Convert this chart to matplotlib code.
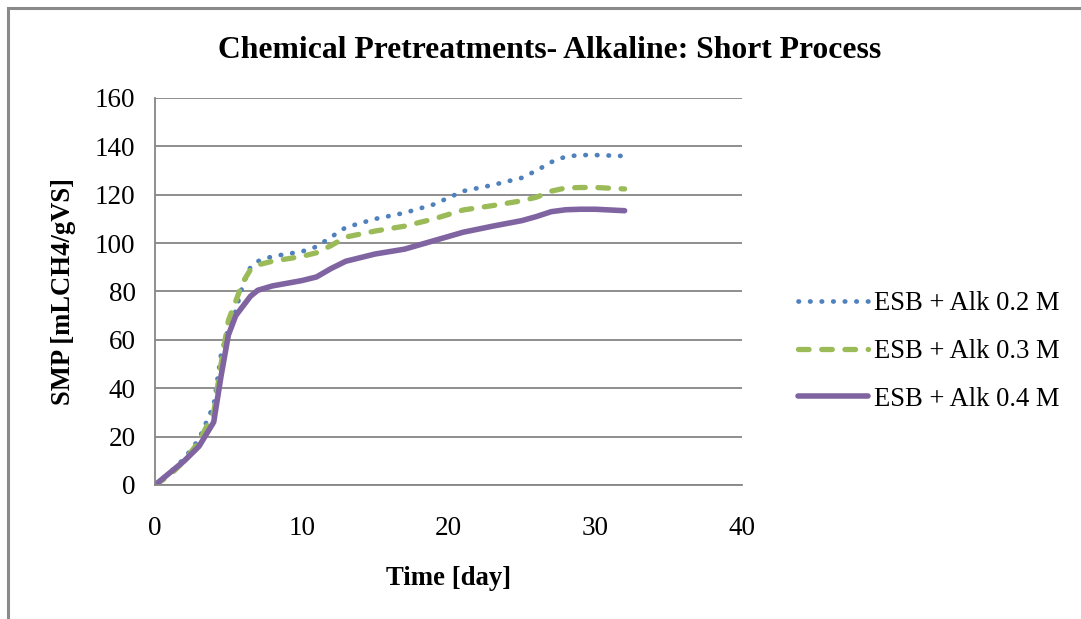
import matplotlib
matplotlib.use("Agg")
import matplotlib.pyplot as plt
from matplotlib.patches import Rectangle

days = [0, 1, 2, 3, 4, 4.5, 5, 5.5, 6, 6.5, 7, 8, 10, 11, 12, 13, 15, 17,
        19, 21, 23, 25, 26, 27, 28, 29, 30, 32]

alk_02 = [0, 5, 11, 19, 33, 54, 65, 72, 83, 90, 92.5, 94.5, 96.5, 98.5, 102.5,
          106.5, 110, 112.5, 116, 121.5, 124, 127, 130, 133.5, 135.8, 136.4,
          136.4, 136]
alk_03 = [0, 4, 10, 18, 30, 50, 68, 76, 84, 89, 91, 92.5, 94.5, 96, 99, 102.5,
          105, 107, 110, 113.7, 115.5, 117.5, 119, 121.5, 122.8, 123, 123, 122.4]
alk_04 = [0, 5, 10, 16, 26, 45, 62, 70, 74, 78, 80.5, 82.3, 84.5, 86, 89.5,
          92.5, 95.5, 97.5, 101, 104.5, 107, 109.3, 111, 113, 113.8, 114, 114,
          113.4]

labels = ["ESB + Alk 0.2 M", "ESB + Alk 0.3 M", "ESB + Alk 0.4 M"]

plt.rcParams['font.family'] = ['Liberation Serif', 'DejaVu Serif']

fig = plt.figure(figsize=(10.81, 6.19), dpi=100)
ax = fig.add_axes([0.1434, 0.2165, 0.543, 0.6252])

ax.plot(days, alk_02, color='#4F81BD', lw=3.4, linestyle=(0, (0.1, 2.35)),
        dash_capstyle='round', solid_joinstyle='round', label=labels[0])
ax.plot(days, alk_03, color='#9BBB59', lw=3.8, linestyle=(0, (2.0, 2.4)),
        dash_capstyle='round', label=labels[1])
ax.plot(days, alk_04, color='#8064A2', lw=4.0, solid_capstyle='round',
        solid_joinstyle='round', label=labels[2])

ax.set_xlim(0, 40)
ax.set_ylim(0, 160)
ax.set_xticks(range(0, 41, 10))
ax.set_yticks(range(0, 161, 20))
ax.tick_params(length=0, labelsize=19.5, pad=14)
ax.tick_params(axis='x', pad=22)
ax.grid(axis='y', color='#868686', lw=1.3)
ax.set_axisbelow(True)
for s in ['top', 'right']:
    ax.spines[s].set_visible(False)
for s in ['left', 'bottom']:
    ax.spines[s].set_color('#868686')
    ax.spines[s].set_linewidth(1.3)

fig.text(550 / 1081, 1 - 50 / 619,
         "Chemical Pretreatments- Alkaline: Short Process",
         fontsize=22.8, fontweight='bold', ha='center', va='center')
ax.set_xlabel("Time [day]", fontsize=19.3, fontweight='bold', labelpad=18)
ax.set_ylabel("SMP [mLCH4/gVS]", fontsize=19.2, fontweight='bold',
              labelpad=14)

leg = ax.legend(loc='center left', bbox_to_anchor=(1.055, 0.345),
                frameon=False, fontsize=19.2, handlelength=2.6,
                labelspacing=0.85, handletextpad=0.25)

fig.patches.append(Rectangle((8 / 1081, -0.1), 1.2, 1.1 - 8 / 619,
                             transform=fig.transFigure, fill=False,
                             edgecolor='#8a8a8a', lw=2.2))

fig.savefig("out.png", dpi=100, facecolor='white')
